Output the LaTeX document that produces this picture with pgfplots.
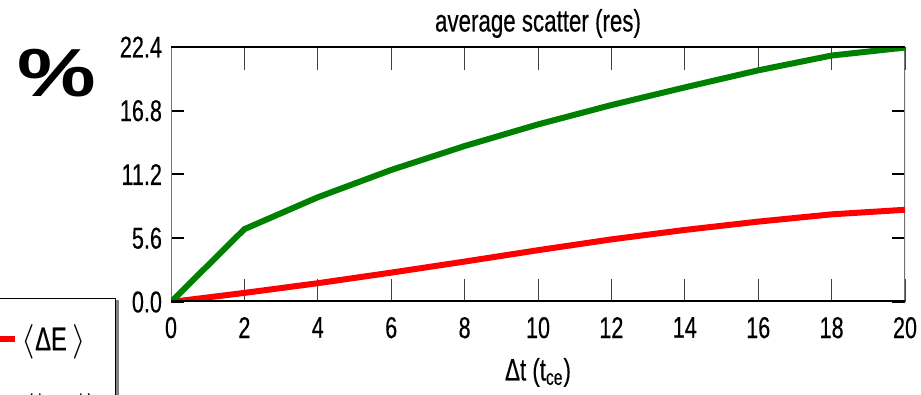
\documentclass[border=0pt]{standalone}
\usepackage{fontspec}
\setmainfont{Liberation Sans}[FakeStretch=0.72, FakeBold=0.4]
\newfontfamily\pctfont{Liberation Sans}[FakeStretch=1.3]
\usepackage{pgfplots}
\pgfplotsset{compat=1.18}
\definecolor{dkgreen}{RGB}{0,128,0}
\pgfplotstableread{
x green red
0 0 0
2 6.40 0.80
4 9.20 1.65
6 11.60 2.58
8 13.70 3.55
10 15.60 4.55
12 17.30 5.50
14 18.85 6.33
16 20.35 7.06
18 21.65 7.70
20 22.35 8.10
}\scatterdata
\begin{document}
\begin{tikzpicture}
\useasboundingbox (0,0) rectangle (460.5pt,197.5pt);
\clip (0,0) rectangle (460.5pt,197.5pt);
\begin{pgfinterruptboundingbox}
\node[font=\pctfont\bfseries\fontsize{34}{34}\selectfont] at (28.5pt,161pt) {\%};
\fill[black!50] (-60pt,-20pt) rectangle (59.4pt,47.3pt);
\begin{axis}[
  at={(85.5pt,46.5pt)}, anchor=south west,
  scale only axis, width=367pt, height=127.5pt,
  xmin=0, xmax=20, ymin=0, ymax=22.4,
  xtick={0,2,...,20}, ytick={0,5.6,11.2,16.8,22.4},
  yticklabel style={/pgf/number format/fixed,/pgf/number format/fixed zerofill,/pgf/number format/precision=1, xshift=-1pt},
  xticklabel style={yshift=-4pt},
  /pgf/number format/assume math mode=true,
  tick label style={font=\fontsize{15}{15}\selectfont},
  tick align=inside, tick pos=both,
  xtick style={draw=black!75, line width=0.5pt, /pgfplots/major tick length=11.5pt},
  ytick style={draw=black, line width=1pt, /pgfplots/major tick length=6.5pt},
  axis line style={draw=none},
  title={average scatter (res)},
  title style={font=\fontsize{15.5}{15.5}\selectfont, yshift=-5pt},
  xlabel={Δt (t\textsubscript{ce})},
  xlabel style={font=\fontsize{15.5}{15.5}\selectfont, yshift=-3pt},
  legend cell align=left,
  legend image code/.code={\draw[#1] (0cm,0cm) -- (0.6cm,0cm);},
  legend style={at={(-0.0749,0.0157)}, anchor=north east, draw=black, line width=0.5pt,
    fill=white, font=\fontsize{16.5}{16.5}\selectfont,
    inner ysep=11pt, inner xsep=6pt, row sep=16pt},
]
\draw[black!55, line width=0.6pt] (rel axis cs:0,0) -- (rel axis cs:0,1);
\draw[black!55, line width=1pt] (rel axis cs:1,0) -- (rel axis cs:1,1);
\addplot[red, line width=3pt] table[x=x, y=red] {\scatterdata};
\addlegendentry{$\bigl\langle$ΔE\,$\bigr\rangle$}
\addplot[dkgreen, line width=3pt] table[x=x, y=green] {\scatterdata};
\addlegendentry{$\bigl\langle|$ΔE$|\bigr\rangle$}
\draw[black, line width=1.5pt] (rel axis cs:0,0) -- (rel axis cs:1,0);
\draw[black, line width=1.5pt] (rel axis cs:0,1) -- (rel axis cs:1,1);
\end{axis}
\end{pgfinterruptboundingbox}
\end{tikzpicture}
\end{document}
